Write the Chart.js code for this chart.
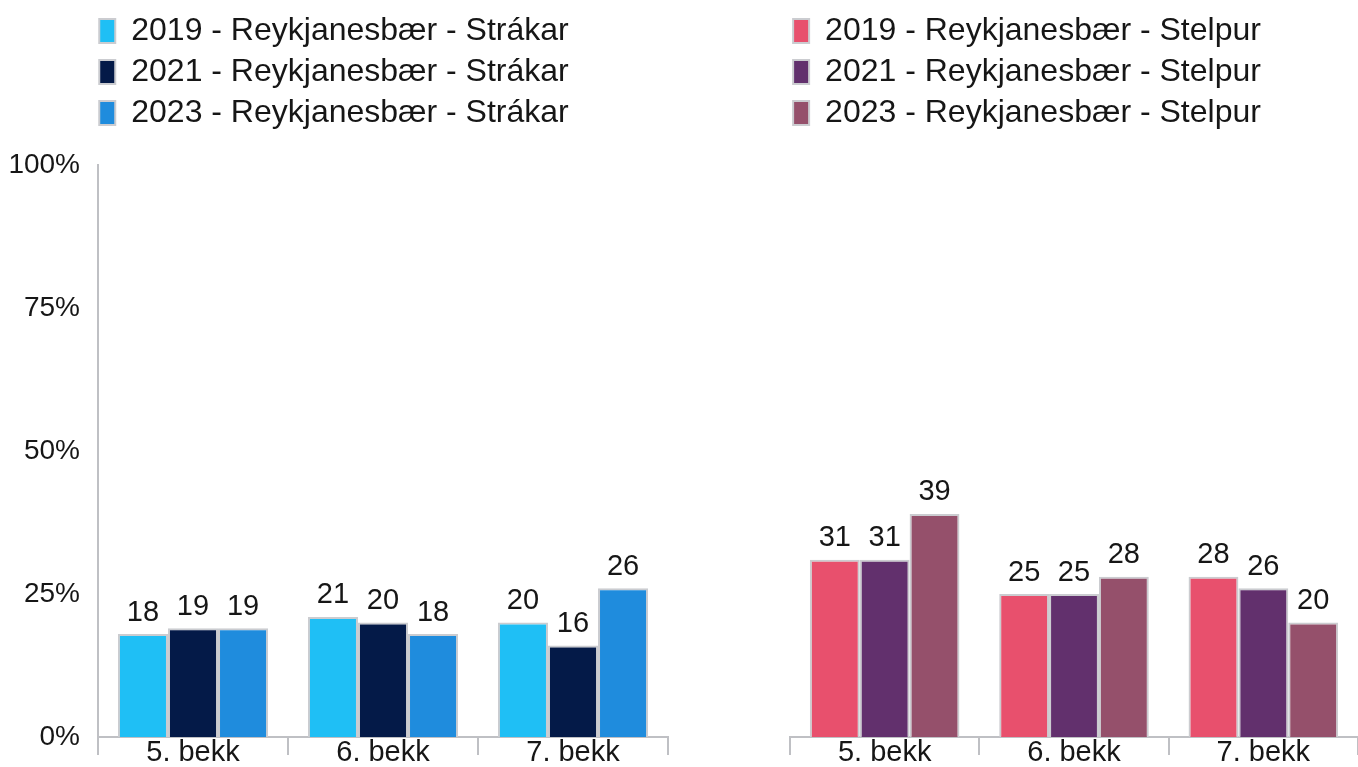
<!DOCTYPE html>
<html>
<head>
<meta charset="utf-8">
<script src="https://cdn.jsdelivr.net/npm/chart.js@4.4.1/dist/chart.umd.min.js"></script>
<style>
    html, body { margin: 0; padding: 0; background: #ffffff; }
    #wrap { position: relative; width: 1358px; height: 767px; overflow: hidden; }
    #boysChart { position: absolute; left: 0; top: 0; }
    #girlsChart { position: absolute; left: 680px; top: 0; }
</style>
</head>
<body>
<div id="wrap">
    <canvas id="boysChart" width="680" height="780"></canvas>
    <canvas id="girlsChart" width="678" height="780"></canvas>
</div>
<script>
// Chart data
const categories = ['5. bekk', '6. bekk', '7. bekk'];
const yTicks = [0, 25, 50, 75, 100];

const boys2019 = [18, 21, 20];
const boys2021 = [19, 20, 16];
const boys2023 = [19, 18, 26];

const girls2019 = [31, 25, 28];
const girls2021 = [31, 25, 26];
const girls2023 = [39, 28, 20];

const fontFamily = '"Liberation Sans", Arial, Helvetica, sans-serif';
Chart.defaults.font.family = fontFamily;
Chart.defaults.color = '#161616';

// Draws the value above each bar
const valueLabels = {
    id: 'valueLabels',
    afterDatasetsDraw(chart) {
        const ctx = chart.ctx;
        ctx.save();
        ctx.font = '29px ' + fontFamily;
        ctx.fillStyle = '#161616';
        ctx.textAlign = 'center';
        ctx.textBaseline = 'bottom';
        chart.data.datasets.forEach((ds, i) => {
            chart.getDatasetMeta(i).data.forEach((bar, j) => {
                ctx.fillText(ds.data[j], bar.x, bar.y - 7);
            });
        });
        ctx.restore();
    }
};

// Fixes the legend block height so the plot starts at the same place in both panels
const legendSpace = {
    id: 'legendSpace',
    beforeInit(chart) {
        const fit = chart.legend.fit;
        chart.legend.fit = function() {
            fit.bind(chart.legend)();
            this.height = 159;
        };
    }
};

function makeChart(id, labels, series, colors, leftPad, rightPad, axisWidth, showAxis) {
    const ctx = document.getElementById(id).getContext('2d');
    return new Chart(ctx, {
        type: 'bar',
        data: {
            labels: categories,
            datasets: series.map((data, i) => ({
                label: labels[i],
                data: data,
                backgroundColor: colors[i],
                borderColor: '#cbccd0',
                borderWidth: 2,
                borderSkipped: 'bottom',
                categoryPercentage: 0.79,
                barPercentage: 1.0
            }))
        },
        options: {
            responsive: false,
            animation: false,
            layout: {
                padding: { left: leftPad, right: rightPad, top: 6, bottom: 0 }
            },
            scales: {
                x: {
                    // canvas is 780 tall, the page shows 767; axis sits at 737
                    afterFit(scale) {
                        scale.height = 43;
                    },
                    grid: {
                        display: true,
                        drawOnChartArea: false,
                        drawTicks: true,
                        tickLength: 18,
                        offset: true,
                        color: '#bfc0c4',
                        lineWidth: 2
                    },
                    border: { display: true, color: '#bfc0c4', width: 2 },
                    ticks: {
                        padding: -17,
                        font: { size: 29, lineHeight: 1 },
                        color: '#161616'
                    }
                },
                y: {
                    min: 0,
                    max: 100,
                    afterBuildTicks(scale) {
                        scale.ticks = yTicks.map(v => ({ value: v }));
                    },
                    afterFit(scale) {
                        scale.width = axisWidth;
                        scale.paddingTop = 0;
                        scale.paddingBottom = 0;
                    },
                    grid: { display: false, drawTicks: false },
                    border: { display: showAxis, color: '#bfc0c4', width: 2 },
                    ticks: {
                        padding: 18,
                        font: { size: 28 },
                        color: showAxis ? '#161616' : 'rgba(0,0,0,0)',
                        callback: function(value) {
                            return value + '%';
                        }
                    }
                }
            },
            plugins: {
                legend: {
                    display: true,
                    position: 'top',
                    align: 'center',
                    labels: {
                        boxWidth: 16,
                        boxHeight: 24,
                        padding: 9,
                        font: { size: 32 },
                        color: '#161616'
                    }
                },
                tooltip: { enabled: false }
            }
        },
        plugins: [valueLabels, legendSpace]
    });
}

makeChart('boysChart',
    ['2019 - Reykjanesbær - Strákar', '2021 - Reykjanesbær - Strákar', '2023 - Reykjanesbær - Strákar'],
    [boys2019, boys2021, boys2023],
    ['#1fbff5', '#041a48', '#1f8cdd'],
    0, 12, 98, true);

makeChart('girlsChart',
    ['2019 - Reykjanesbær - Stelpur', '2021 - Reykjanesbær - Stelpur', '2023 - Reykjanesbær - Stelpur'],
    [girls2019, girls2021, girls2023],
    ['#e8506d', '#62306d', '#95506b'],
    16, 0, 94, false);
</script>
</body>
</html>
